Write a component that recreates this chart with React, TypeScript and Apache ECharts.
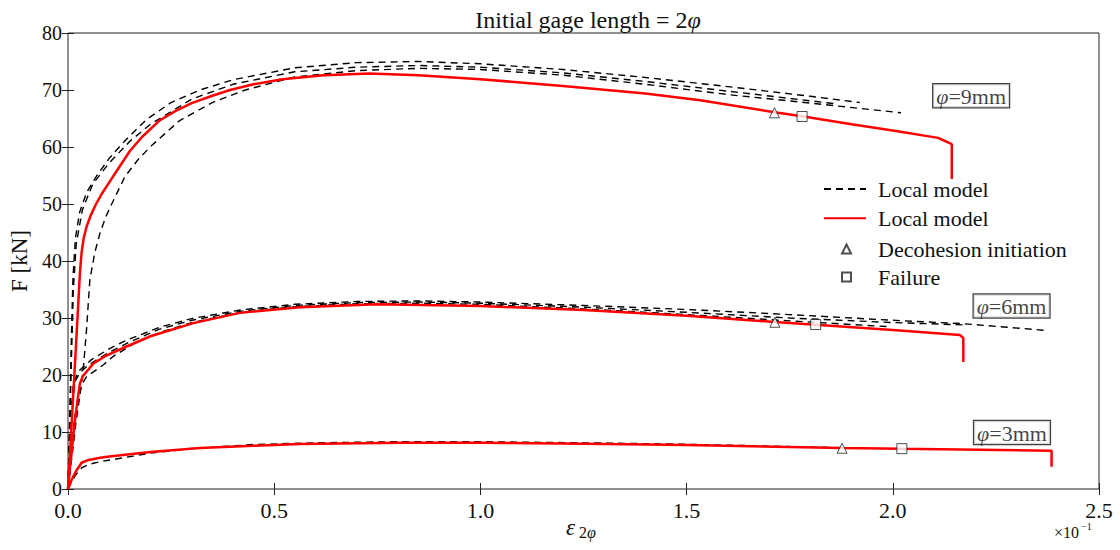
import React, { useEffect, useRef } from "react";
import * as echarts from "echarts";

// x: strain eps_2phi (x10^-1), y: force F [kN]
const exp9a: [number, number][] = [
  [0, 0], [0.004, 12], [0.008, 26], [0.012, 37], [0.018, 44], [0.028, 48.5], [0.045, 52], [0.07, 55],
  [0.1, 58], [0.134, 60.8], [0.19, 64.8], [0.25, 67.8], [0.32, 70], [0.4, 71.8], [0.55, 73.9],
  [0.7, 74.8], [0.85, 75.0], [1.0, 74.6], [1.2, 73.6], [1.4, 72.2], [1.6, 70.6], [1.8, 68.9], [1.92, 67.8],
];
const exp9b: [number, number][] = [
  [0, 0], [0.004, 10], [0.008, 22], [0.013, 35], [0.02, 43], [0.035, 49], [0.06, 53.5], [0.1, 57.2],
  [0.15, 61], [0.2, 64], [0.3, 68.4], [0.4, 71], [0.55, 73.2], [0.7, 74], [0.85, 74.3], [1.0, 74.0],
  [1.2, 73], [1.4, 71.5], [1.6, 69.8], [1.8, 68.1], [1.86, 67.6],
];
const exp9c: [number, number][] = [
  [0, 0], [0.01, 6], [0.02, 12], [0.03, 17], [0.037, 21], [0.045, 28], [0.053, 36.7], [0.065, 41.5],
  [0.078, 45], [0.092, 47.8], [0.106, 50], [0.138, 54.8], [0.17, 57.8], [0.199, 60], [0.27, 64.6],
  [0.35, 67.8], [0.43, 70], [0.55, 72.3], [0.7, 73.4], [0.85, 73.8], [1.0, 73.6], [1.2, 72.6],
  [1.4, 71], [1.6, 69.2], [1.8, 67.7], [2.02, 66],
];
const model9: [number, number][] = [
  [0, 0], [0.01, 13], [0.02, 26], [0.029, 38], [0.033, 41.5], [0.038, 44], [0.045, 46], [0.055, 48],
  [0.068, 50], [0.082, 51.8], [0.1, 53.8], [0.12, 56], [0.15, 59.3], [0.18, 61.8], [0.223, 64.7],
  [0.26, 66.3], [0.3, 67.7], [0.35, 69], [0.393, 70], [0.45, 71], [0.52, 71.9], [0.62, 72.6],
  [0.73, 72.9], [0.85, 72.6], [1.0, 71.9], [1.2, 70.7], [1.4, 69.4], [1.533, 68.2], [1.713, 66.1],
  [1.78, 65.4], [1.9, 64], [2.0, 62.9], [2.11, 61.6], [2.143, 60.5], [2.143, 54.4],
];

const exp6a: [number, number][] = [
  [0, 0], [0.004, 8], [0.008, 14], [0.013, 18.5], [0.025, 20.6], [0.04, 21.6], [0.057, 22.7], [0.1, 24.6],
  [0.142, 26.1], [0.223, 28.4], [0.3, 29.9], [0.417, 31.4], [0.55, 32.4], [0.7, 32.9], [0.85, 33.0],
  [1.0, 32.8], [1.25, 32.2], [1.5, 31.5], [1.75, 30.6], [2.0, 29.6], [2.17, 29.0], [2.376, 27.8],
];
const exp6b: [number, number][] = [
  [0, 0], [0.005, 9], [0.01, 15], [0.018, 19], [0.03, 20.5], [0.05, 21.8], [0.1, 24], [0.15, 25.8],
  [0.22, 28], [0.3, 29.6], [0.42, 31.2], [0.55, 32.2], [0.7, 32.7], [0.85, 32.8], [1.0, 32.6],
  [1.25, 31.9], [1.5, 31.0], [1.75, 30], [2.0, 29.2], [2.17, 28.8],
];
const exp6c: [number, number][] = [
  [0, 0], [0.008, 7], [0.015, 12], [0.025, 16], [0.035, 18.5], [0.045, 19.7], [0.086, 21.8], [0.11, 23.3],
  [0.16, 25.5], [0.22, 27.4], [0.3, 29.2], [0.42, 31], [0.55, 32], [0.7, 32.5], [0.85, 32.6],
  [1.0, 32.4], [1.25, 31.6], [1.5, 30.6], [1.75, 29.5], [1.985, 28.5],
];
const model6: [number, number][] = [
  [0, 0], [0.005, 4], [0.009, 6.5], [0.013, 9.5], [0.017, 12.1], [0.023, 15.5], [0.029, 18.5],
  [0.036, 19.8], [0.05, 21], [0.061, 22], [0.09, 23.3], [0.142, 25], [0.2, 26.8], [0.304, 29.1],
  [0.417, 30.9], [0.563, 31.9], [0.75, 32.4], [1.0, 32.1], [1.25, 31.4], [1.5, 30.4], [1.714, 29.3],
  [1.813, 28.8], [2.0, 27.9], [2.163, 27.0], [2.171, 26.5], [2.171, 22.3],
];

const exp3: [number, number][] = [
  [0, 0], [0.01, 1.5], [0.02, 2.6], [0.033, 3.7], [0.05, 4.3], [0.078, 4.8], [0.12, 5.3], [0.2, 6.3],
  [0.3, 7.1], [0.45, 7.8], [0.6, 8.1], [0.8, 8.3], [1.0, 8.3], [1.25, 8.1], [1.5, 7.85], [1.75, 7.45],
  [1.85, 7.3],
];
const model3: [number, number][] = [
  [0, 0], [0.01, 1.8], [0.02, 3.2], [0.033, 4.6], [0.05, 5.1], [0.078, 5.5], [0.1, 5.7], [0.2, 6.5],
  [0.32, 7.2], [0.45, 7.6], [0.563, 7.9], [0.805, 8.1], [1.0, 8.1], [1.25, 7.95], [1.5, 7.7],
  [1.877, 7.2], [2.022, 7.05], [2.385, 6.7], [2.385, 3.9],
];

const decohesion: [number, number][] = [[1.713, 66.0], [1.714, 29.25], [1.877, 7.15]];
const failure: [number, number][] = [[1.78, 65.35], [1.813, 28.85], [2.022, 7.08]];

const diameters = ["9mm", "6mm", "3mm"];
const diameterLabelAt: [number, number][] = [[2.19, 69.0], [2.288, 32.1], [2.289, 9.9]];

const xTicks = [0, 0.5, 1.0, 1.5, 2.0, 2.5];
const yTicks = [0, 10, 20, 30, 40, 50, 60, 70, 80];

const FONT = "'Liberation Serif', 'DejaVu Serif', serif";
const INK = "#111";

export default function App() {
  const ref = useRef<HTMLDivElement>(null);

  useEffect(() => {
    document.body.style.margin = "0";
    const chart = echarts.init(ref.current!, null, { renderer: "svg" });

    const dashed = (data: [number, number][]) => ({
      type: "line",
      name: "exp",
      data,
      symbol: "none",
      silent: true,
      z: 2,
      itemStyle: { color: "#000" },
      lineStyle: { color: "#000", width: 1.4, type: [7, 5] },
    });
    const red = (data: [number, number][]) => ({
      type: "line",
      name: "Local model",
      data,
      symbol: "none",
      silent: true,
      z: 3,
      itemStyle: { color: "#ff0000" },
      lineStyle: { color: "#ff0000", width: 2.5 },
    });

    const xMin = xTicks[0];
    const xMax = xTicks[xTicks.length - 1];
    const xInt = xTicks[1] - xTicks[0];
    const yMin = yTicks[0];
    const yMax = yTicks[yTicks.length - 1];
    const yInt = yTicks[1] - yTicks[0];

    const axisCommon = {
      type: "value",
      splitLine: { show: false },
      axisLine: { show: false },
      axisTick: { show: true, inside: true, length: 6, lineStyle: { color: "#222", width: 1 } },
    };

    const txt = (text: string, left: number, top: number, size: number, italic = false) => ({
      type: "text",
      left,
      top,
      style: {
        text,
        fontFamily: FONT,
        fontSize: size,
        fontStyle: italic ? "italic" : "normal",
        fill: INK,
      },
    });

    chart.setOption({
      animation: false,
      backgroundColor: "#fff",
      title: {
        text: "Initial gage length = 2{i|φ}",
        left: 583,
        textAlign: "center",
        top: 3,
        textStyle: {
          fontFamily: FONT,
          fontSize: 24,
          fontWeight: "normal",
          color: INK,
          rich: { i: { fontFamily: FONT, fontSize: 24, fontStyle: "italic", color: INK } },
        },
      },
      grid: {
        left: 68,
        right: 21,
        top: 33,
        bottom: 61,
        show: true,
        borderColor: "#222",
        borderWidth: 1,
        backgroundColor: "transparent",
      },
      legend: [
        {
          data: ["exp", "Local model"],
          orient: "vertical",
          left: 818,
          top: 173,
          itemWidth: 42,
          itemHeight: 14,
          itemGap: 7.3,
          itemStyle: { color: "transparent", borderColor: "transparent", borderWidth: 0, opacity: 0 },
          formatter: (n: string) => (n === "exp" ? "Local model" : n),
          textStyle: { fontFamily: FONT, fontSize: 22, color: INK, lineHeight: 22, padding: [0, 0, 0, 7] },
        },
        {
          data: ["Decohesion initiation", "Failure"],
          orient: "vertical",
          left: 836,
          top: 233,
          itemWidth: 9,
          itemHeight: 9,
          itemGap: 6,
          textStyle: { fontFamily: FONT, fontSize: 22, color: INK, lineHeight: 22, padding: [0, 0, 0, 22] },
        },
      ],
      xAxis: [
        {
          ...axisCommon,
          position: "bottom",
          min: xMin,
          max: xMax,
          interval: xInt,
          axisLabel: {
            fontFamily: FONT,
            fontSize: 22,
            lineHeight: 18,
            color: INK,
            margin: 12,
            formatter: (v: number) => v.toFixed(1),
          },
        },
        {
          ...axisCommon,
          position: "top",
          min: xMin,
          max: xMax,
          interval: xInt,
          axisLabel: { show: false },
        },
      ],
      yAxis: [
        {
          ...axisCommon,
          position: "left",
          min: yMin,
          max: yMax,
          interval: yInt,
          name: "F [kN]",
          nameLocation: "middle",
          nameGap: 31,
          nameTextStyle: { fontFamily: FONT, fontSize: 23, color: INK },
          axisLabel: { fontFamily: FONT, fontSize: 20, lineHeight: 12, color: INK, margin: 6 },
        },
        {
          ...axisCommon,
          position: "right",
          min: yMin,
          max: yMax,
          interval: yInt,
          axisLabel: { show: false },
        },
      ],
      graphic: [
        txt("ε", 566, 516, 23, true),
        txt("2", 579, 524, 16),
        txt("φ", 587, 524, 16, true),
        txt("×10", 1054, 524, 16),
        txt("−1", 1081, 521, 10),
      ],
      series: [
        dashed(exp9a),
        dashed(exp9b),
        dashed(exp9c),
        dashed(exp6a),
        dashed(exp6b),
        dashed(exp6c),
        dashed(exp3),
        red(model9),
        red(model6),
        red(model3),
        {
          type: "scatter",
          name: "Decohesion initiation",
          data: decohesion,
          symbol: "triangle",
          symbolSize: 10,
          z: 5,
          itemStyle: { color: "#fff", borderColor: "#222", borderWidth: 1 },
        },
        {
          type: "scatter",
          name: "Failure",
          data: failure,
          symbol: "rect",
          symbolSize: 10,
          z: 5,
          itemStyle: { color: "#fff", borderColor: "#222", borderWidth: 1 },
        },
        {
          type: "scatter",
          name: "labels",
          data: diameters.map((d, i) => ({ name: d, value: diameterLabelAt[i] })),
          symbolSize: 1,
          z: 6,
          silent: true,
          itemStyle: { color: "transparent" },
          label: {
            show: true,
            position: "inside",
            formatter: (p: any) => "{i|φ}{n|=" + p.name + "}",
            backgroundColor: "#fff",
            borderColor: INK,
            borderWidth: 1.2,
            padding: [1, 3, 0, 3],
            rich: {
              i: { fontFamily: FONT, fontSize: 22, fontStyle: "italic", color: INK },
              n: { fontFamily: FONT, fontSize: 22, color: INK },
            },
          },
        },
      ],
    });

    return () => chart.dispose();
  }, []);

  return (
    <div
      ref={ref}
      style={{ position: "absolute", left: 0, top: 0, width: 1120, height: 550 }}
    />
  );
}
